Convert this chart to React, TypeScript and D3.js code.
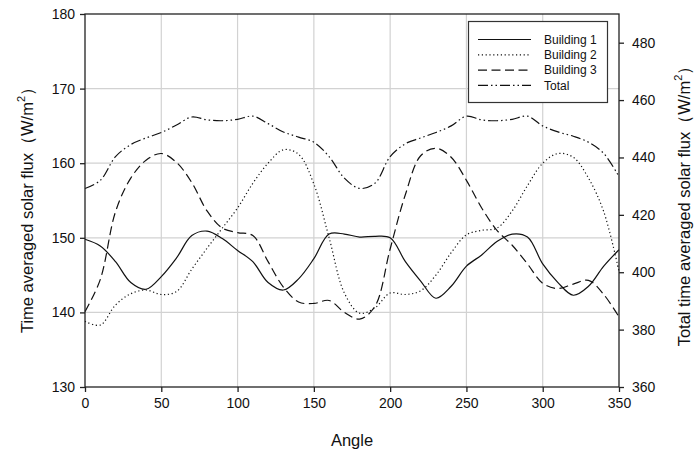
import React, { useEffect, useRef } from "react";
import * as d3 from "d3";

const angles = [0,10,20,30,40,50,60,70,80,90,100,110,120,130,140,150,160,170,180,190,200,210,220,230,240,250,260,270,280,290,300,310,320,330,340,350];
const building1 = [149.8,148.9,146.8,144.0,143.1,144.8,147.3,150.3,150.9,149.9,148.3,146.8,144.0,143.0,144.5,147.2,150.5,150.5,150.1,150.2,150.0,146.8,144.2,141.9,143.5,146.2,147.7,149.5,150.5,150.1,146.5,144.0,142.3,143.5,146.2,148.4];
const building2 = [138.8,138.3,141.0,142.5,143.0,142.4,142.8,145.8,148.6,151.3,154.0,157.3,160.0,161.8,161.2,157.2,150.0,142.6,139.9,140.6,142.6,142.4,142.9,145.0,148.0,150.4,151.0,151.3,153.6,157.0,160.0,161.3,160.8,158.0,153.5,145.5];
const building3 = [140.1,144.4,153.5,158.0,160.4,161.3,160.1,157.4,153.6,151.3,150.7,150.3,146.8,143.4,141.4,141.2,141.6,140.0,139.1,140.8,148.5,155.8,161.0,162.0,160.8,157.7,154.0,151.0,149.0,146.5,143.9,143.2,143.8,144.3,142.4,139.4];
const total = [429.2,432.0,440.3,444.5,446.8,448.7,451.3,454.1,453.1,452.8,453.3,454.4,451.8,448.9,447.1,445.3,440.3,432.8,429.2,431.0,440.3,444.8,446.8,448.7,451.0,454.4,453.1,452.8,453.3,454.4,451.0,448.9,447.4,445.3,441.4,433.3];

const xTicks = [0,50,100,150,200,250,300,350];
const yLeftTicks = [130,140,150,160,170,180];
const yRightTicks = [360,380,400,420,440,460,480];
const legendLabels = ["Building 1","Building 2","Building 3","Total"];

const W = 694, H = 454;
const M = { left: 85, right: 619, top: 14, bottom: 387 };
const FONT = "Arial, 'Liberation Sans', Helvetica, sans-serif";

export default function App() {
  const ref = useRef<SVGSVGElement>(null);
  useEffect(() => {
    document.body.style.margin = "0";
    const svg = d3.select(ref.current);
    svg.selectAll("*").remove();
    const x = d3.scaleLinear().domain([0, 350]).range([M.left, M.right]);
    const yL = d3.scaleLinear().domain([130, 180]).range([M.bottom, M.top]);
    const yR = d3.scaleLinear().domain([360, 490]).range([M.bottom, M.top]);

    const grid = svg.append("g").attr("stroke", "#d2d2d2").attr("stroke-width", 1.2);
    xTicks.filter(t => t > 0 && t < 350).forEach(t => {
      grid.append("line").attr("x1", x(t)).attr("x2", x(t)).attr("y1", M.top).attr("y2", M.bottom);
    });
    yLeftTicks.filter(t => t > 130 && t < 180).forEach(t => {
      grid.append("line").attr("x1", M.left).attr("x2", M.right).attr("y1", yL(t)).attr("y2", yL(t));
    });

    const styles = [
      { data: building1, y: yL, dash: null },
      { data: building2, y: yL, dash: "1.2,2.6" },
      { data: building3, y: yL, dash: "9,4.5" },
      { data: total, y: yR, dash: "10,3,1.5,3,1.5,3" },
    ];
    styles.forEach(s => {
      const line = d3.line<number>()
        .x((_, i) => x(angles[i]))
        .y(d => s.y(d))
        .curve(d3.curveCatmullRom.alpha(0.5));
      svg.append("path").attr("d", line(s.data) as string)
        .attr("fill", "none").attr("stroke", "#111").attr("stroke-width", 1.2)
        .attr("stroke-dasharray", s.dash as any);
    });

    const axisStyle = (g: any) => {
      g.selectAll(".domain").remove();
      g.selectAll("line").attr("stroke", "#222").attr("stroke-width", 1.3);
      g.selectAll("text").attr("font-family", FONT).attr("font-size", 14).attr("fill", "#111");
    };
    svg.append("g").attr("transform", `translate(0,${M.bottom})`)
      .call(d3.axisBottom(x).tickValues(xTicks).tickSize(5).tickPadding(6).tickFormat(d3.format("d")))
      .call(axisStyle);
    svg.append("g").attr("transform", `translate(${M.left},0)`)
      .call(d3.axisLeft(yL).tickValues(yLeftTicks).tickSize(5).tickPadding(5).tickFormat(d3.format("d")))
      .call(axisStyle);
    svg.append("g").attr("transform", `translate(${M.right},0)`)
      .call(d3.axisRight(yR).tickValues(yRightTicks).tickSize(5).tickPadding(8).tickFormat(d3.format("d")))
      .call(axisStyle);

    svg.append("rect").attr("x", M.left).attr("y", M.top)
      .attr("width", M.right - M.left).attr("height", M.bottom - M.top)
      .attr("fill", "none").attr("stroke", "#222").attr("stroke-width", 1.3);

    // Legend
    const lg = svg.append("g");
    lg.append("rect").attr("x", 468.5).attr("y", 21.5).attr("width", 139).attr("height", 81)
      .attr("fill", "#fff").attr("stroke", "#333").attr("stroke-width", 1.2);
    legendLabels.forEach((lab, i) => {
      const yy = 39.5 + i * 15.3;
      lg.append("line").attr("x1", 478).attr("x2", 531).attr("y1", yy).attr("y2", yy)
        .attr("stroke", "#111").attr("stroke-width", 1.2)
        .attr("stroke-dasharray", styles[i].dash as any);
      lg.append("text").attr("x", 544).attr("y", yy + 4.3).text(lab)
        .attr("font-family", FONT).attr("font-size", 12).attr("fill", "#111");
    });

    // Axis titles
    svg.append("text").attr("x", (M.left + M.right) / 2).attr("y", 446).attr("text-anchor", "middle")
      .attr("font-family", FONT).attr("font-size", 16.5).attr("fill", "#111").text("Angle");

    const yTitle = (tx: number, cy: number, label: string) => {
      const t = svg.append("text").attr("transform", `translate(${tx},${cy}) rotate(-90)`)
        .attr("text-anchor", "middle").attr("font-family", FONT).attr("font-size", 16.5).attr("fill", "#111");
      t.append("tspan").text(label + "（W/m");
      t.append("tspan").attr("dy", -8).attr("font-size", 11).text("2");
      t.append("tspan").attr("dy", 8).text("）");
    };
    yTitle(33, 206, "Time averaged solar flux");
    yTitle(690, 202, "Total time averaged solar flux");
  }, []);
  return <svg ref={ref} width={W} height={H} style={{ display: "block", background: "#fff" }} />;
}
